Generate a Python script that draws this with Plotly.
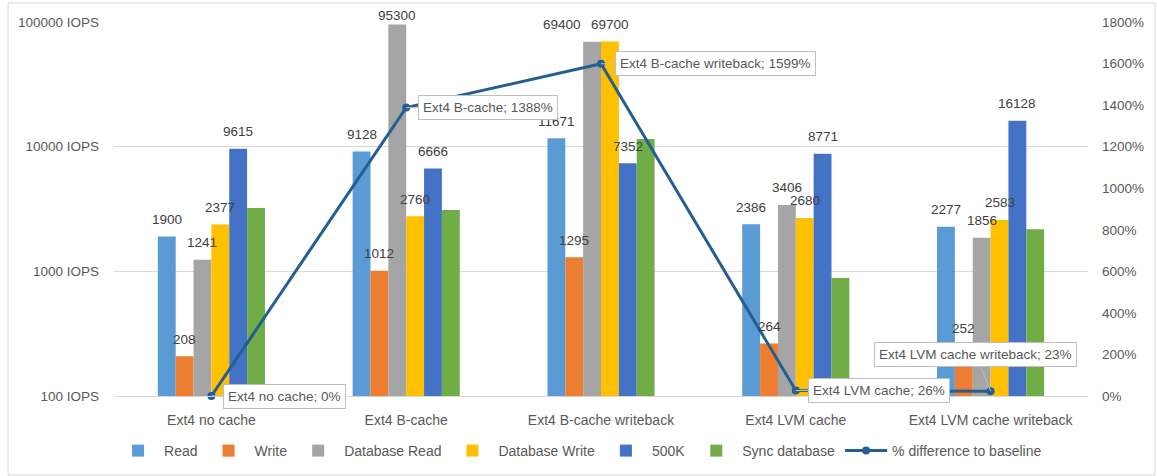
import math
import plotly.graph_objects as go

# Storage configurations compared
categories = ["Ext4 no cache", "Ext4 B-cache", "Ext4 B-cache writeback",
              "Ext4 LVM cache", "Ext4 LVM cache writeback"]

# IOPS per benchmark
read = [1900, 9128, 11671, 2386, 2277]
write = [208, 1012, 1295, 264, 252]
database_read = [1241, 95300, 69400, 3406, 1856]
database_write = [2377, 2760, 69700, 2680, 2583]
k500 = [9615, 6666, 7352, 8771, 16128]
sync_database = [3220, 3100, 11500, 884, 2180]

# Percentage difference relative to the no-cache baseline
pct_diff = [0, 1388, 1599, 26, 23]

left_ticks = [100, 1000, 10000, 100000]
left_tick_text = ["100 IOPS", "1000 IOPS", "10000 IOPS", "100000 IOPS"]

FONT = "Liberation Sans, Arial, sans-serif"
TXT = "#595959"
LBL = "#404040"

W, H = 1157, 476
M = dict(l=114, r=69, t=22, b=80)
BARGAP = 0.45

bar_series = [
    ("Read", read, "#5b9bd5", True),
    ("Write", write, "#ed7d31", True),
    ("Database Read", database_read, "#a5a5a5", True),
    ("Database Write", database_write, "#ffc000", True),
    ("500K", k500, "#4472c4", True),
    ("Sync database", sync_database, "#70ad47", False),
]

fig = go.Figure()

for name, vals, color, _ in bar_series:
    fig.add_trace(go.Bar(
        name=name, x=categories, y=vals,
        marker=dict(color=color, line=dict(width=0)),
        hoverinfo="x+y+name", yaxis="y",
    ))

fig.add_trace(go.Scatter(
    name="% difference to baseline",
    x=categories, y=pct_diff,
    mode="lines+markers",
    line=dict(color="#255e91", width=3),
    marker=dict(color="#255e91", size=8),
    yaxis="y2", cliponaxis=False,
))

# Value labels above each bar (horizontal offset follows the grouped-bar slot)
plot_w = W - M["l"] - M["r"]
slot_w = plot_w / len(categories) * (1 - BARGAP) / len(bar_series)
label_nudge = {
    ("Database Read", "Ext4 B-cache"): (0, 9),
    ("Database Read", "Ext4 B-cache writeback"): (-30, 17),
}
for i, (name, vals, _, labelled) in enumerate(bar_series):
    if not labelled:
        continue
    base = (i - (len(bar_series) - 1) / 2) * slot_w
    for cat, v in zip(categories, vals):
        dx, dy = label_nudge.get((name, cat), (0, 17))
        fig.add_annotation(
            x=cat, y=math.log10(v), xref="x", yref="y",
            text=str(v), showarrow=False,
            xshift=base + dx, yshift=dy, yanchor="middle",
            font=dict(family=FONT, size=13.5, color=LBL),
        )

# Callout labels for each point of the percentage line
offsets = [(73, 0), (82, 0), (114, 0), (83, 0), (-15, -37)]
for cat, val, (ax, ay) in zip(categories, pct_diff, offsets):
    fig.add_annotation(
        x=cat, y=val, xref="x", yref="y2",
        text=f"{cat}; {val}%",
        showarrow=True, arrowhead=0, arrowwidth=1, arrowcolor="#bfbfbf",
        ax=ax, ay=ay, standoff=0,
        font=dict(family=FONT, size=13.5, color=TXT),
        bgcolor="white", bordercolor="#bfbfbf", borderwidth=1, borderpad=4,
    )

# Chart-area frame
fig.add_shape(type="rect", xref="paper", yref="paper",
              x0=-0.1088, x1=1.0688, y0=-0.2112, y1=1.0508,
              line=dict(color="#d9d9d9", width=1), fillcolor="rgba(0,0,0,0)",
              layer="below")

fig.update_layout(
    width=W, height=H,
    margin=M,
    paper_bgcolor="white", plot_bgcolor="white",
    barmode="group", bargap=BARGAP, bargroupgap=0,
    font=dict(family=FONT, size=13.5, color=TXT),
    showlegend=True,
    legend=dict(orientation="h", x=0.478, xanchor="center",
                yref="container", y=0.0525, yanchor="middle",
                font=dict(family=FONT, size=14, color=TXT),
                traceorder="normal", itemwidth=42),
    xaxis=dict(showgrid=False, showline=True, linecolor="#d9d9d9",
               ticks="", ticklabelstandoff=11, automargin=False,
               tickfont=dict(family=FONT, size=14, color=TXT)),
    yaxis=dict(type="log", range=[2, 5], tickvals=left_ticks,
               ticktext=left_tick_text, showgrid=True, gridcolor="#d9d9d9",
               zeroline=False, ticks="", ticklabelstandoff=14, automargin=False,
               tickfont=dict(family=FONT, size=13.5, color=TXT)),
    yaxis2=dict(overlaying="y", side="right", range=[0, 1800], dtick=200,
                ticksuffix="%", showgrid=False, zeroline=False, ticks="",
                ticklabelstandoff=13, automargin=False,
                tickfont=dict(family=FONT, size=13.5, color=TXT)),
)

fig.write_html("out.html")
